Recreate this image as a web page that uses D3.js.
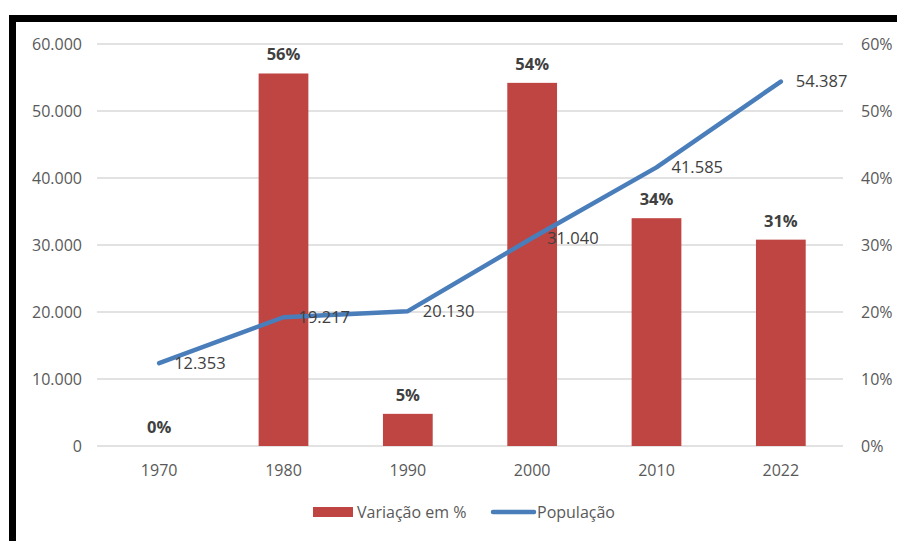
<!DOCTYPE html>
<html>
<head>
<meta charset="utf-8">
<script src="https://cdn.jsdelivr.net/npm/d3@7"></script>
<style>
  body { margin: 0; background: #fff; }
  text { font-family: "Open Sans", sans-serif; }
</style>
</head>
<body>
<svg width="897" height="541"></svg>
<script>
// data
var anos = ["1970", "1980", "1990", "2000", "2010", "2022"];
var variacao = [0, 55.6, 4.8, 54.2, 34.0, 30.8];
var populacao = [12353, 19217, 20130, 31040, 41585, 54387];
var variacaoLabels = ["0%", "56%", "5%", "54%", "34%", "31%"];
var popTicks = [0, 10000, 20000, 30000, 40000, 50000, 60000];
var pctTicks = [0, 10, 20, 30, 40, 50, 60];

var svg = d3.select("svg");
var width = +svg.attr("width");
var height = +svg.attr("height");

var red = "#be4542", blue = "#4a7ebb", grey = "#595959";
var fmtPop = function(v) { return d3.format(",")(v).replace(/,/g, "."); };

// black frame (top and left edges of the screenshot)
svg.append("rect").attr("x", 9).attr("y", 15).attr("width", width - 9).attr("height", 7).attr("fill", "#000");
svg.append("rect").attr("x", 9).attr("y", 15).attr("width", 7).attr("height", height - 15).attr("fill", "#000");

var x = d3.scaleBand().domain(anos).range([97, 843]).paddingInner(0.6).paddingOuter(0.3);
var xc = function(d) { return x(d) + x.bandwidth() / 2; };
var yPop = d3.scaleLinear().domain([0, 60000]).range([446, 44]);
var yPct = d3.scaleLinear().domain([0, 60]).range([446, 44]);

// grid
svg.append("g").selectAll("line")
  .data(popTicks)
  .enter().append("line")
    .attr("x1", 97).attr("x2", 843)
    .attr("y1", function(d) { return yPop(d); })
    .attr("y2", function(d) { return yPop(d); })
    .attr("stroke", "#d9d9d9").attr("stroke-width", 1.5);

// left axis
var axL = svg.append("g").attr("transform", "translate(82,0)")
  .call(d3.axisLeft(yPop).tickValues(popTicks).tickSize(0).tickPadding(0).tickFormat(fmtPop));
axL.select(".domain").remove();
axL.selectAll("text").attr("fill", grey).style("font-size", "16px").style("font-family", "Open Sans, sans-serif");

// right axis
var axR = svg.append("g").attr("transform", "translate(861,0)")
  .call(d3.axisRight(yPct).tickValues(pctTicks).tickSize(0).tickPadding(0).tickFormat(function(d) { return d + "%"; }));
axR.select(".domain").remove();
axR.selectAll("text").attr("fill", grey).style("font-size", "16px").style("font-family", "Open Sans, sans-serif");

// bottom axis
var axB = svg.append("g").attr("transform", "translate(0,446)")
  .call(d3.axisBottom(x).tickSize(0).tickPadding(19));
axB.select(".domain").remove();
axB.selectAll("text").attr("fill", grey).style("font-size", "16px").style("font-family", "Open Sans, sans-serif");

// bars
svg.append("g").selectAll("rect")
  .data(anos)
  .enter().append("rect")
    .attr("x", function(d) { return x(d); })
    .attr("width", x.bandwidth())
    .attr("y", function(d, i) { return yPct(variacao[i]); })
    .attr("height", function(d, i) { return 446 - yPct(variacao[i]); })
    .attr("fill", red);

svg.append("g").selectAll("text")
  .data(anos)
  .enter().append("text")
    .attr("x", xc)
    .attr("y", function(d, i) { return yPct(variacao[i]) - 13; })
    .attr("text-anchor", "middle")
    .attr("fill", "#404040")
    .style("font-size", "16.5px").style("font-weight", "bold")
    .text(function(d, i) { return variacaoLabels[i]; });

// population line
var line = d3.line()
  .x(function(d, i) { return xc(anos[i]); })
  .y(function(d) { return yPop(d); });

svg.append("path")
  .datum(populacao)
  .attr("d", line)
  .attr("fill", "none")
  .attr("stroke", blue)
  .attr("stroke-width", 4.5)
  .attr("stroke-linecap", "round")
  .attr("stroke-linejoin", "round");

svg.append("g").selectAll("text")
  .data(populacao)
  .enter().append("text")
    .attr("x", function(d, i) { return xc(anos[i]) + 15; })
    .attr("y", function(d) { return yPop(d); })
    .attr("dy", "0.35em")
    .attr("fill", "#404040")
    .style("font-size", "16.5px")
    .text(fmtPop);

// legend
var lg = svg.append("g");
lg.append("rect").attr("x", 313).attr("y", 507).attr("width", 40).attr("height", 10).attr("fill", red);
lg.append("text").attr("x", 357).attr("y", 512).attr("dy", "0.35em").attr("fill", grey)
  .style("font-size", "16px").text("Variação em %");
lg.append("line").attr("x1", 493).attr("x2", 534).attr("y1", 512).attr("y2", 512)
  .attr("stroke", blue).attr("stroke-width", 4.5).attr("stroke-linecap", "round");
lg.append("text").attr("x", 537).attr("y", 512).attr("dy", "0.35em").attr("fill", grey)
  .style("font-size", "16px").text("População");
</script>
</body>
</html>
